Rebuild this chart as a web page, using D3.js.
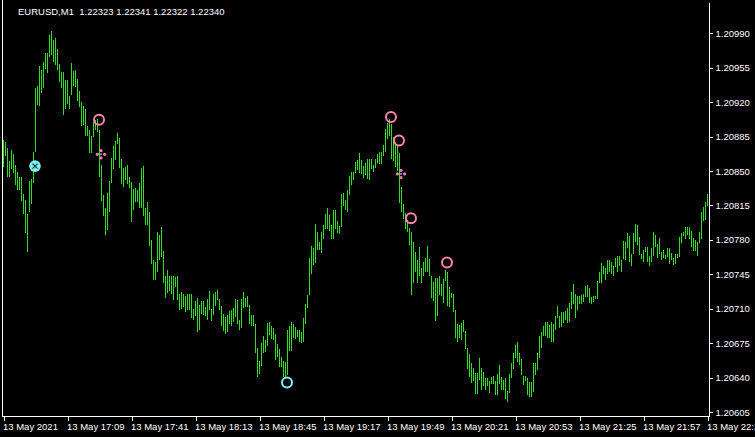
<!DOCTYPE html>
<html>
<head>
<meta charset="utf-8">
<script src="https://cdn.jsdelivr.net/npm/d3@7"></script>
<style>
  html, body { margin: 0; padding: 0; background: #000; overflow: hidden; }
  text { font-family: "Liberation Sans", Arial, sans-serif; }
</style>
</head>
<body>
<div id="chart"></div>
<script>
// EURUSD M1, one bar per minute from 13 May 16:37 to 22:29
const highs = [
  1.20882,1.20879,1.20873,1.20860,1.20871,1.20867,1.20856,1.20849,1.20844,1.20844,
  1.20827,1.20821,1.20806,1.20840,1.20842,1.20869,1.20934,1.20936,1.20957,1.20953,
  1.20961,1.20970,1.20970,1.20988,1.20992,1.20983,1.20985,1.20974,1.20959,1.20951,
  1.20951,1.20943,1.20943,1.20926,1.20960,1.20952,1.20953,1.20944,1.20931,1.20920,
  1.20916,1.20913,1.20896,1.20892,1.20886,1.20900,1.20902,1.20903,1.20892,1.20856,
  1.20826,1.20812,1.20828,1.20840,1.20863,1.20875,1.20881,1.20889,1.20884,1.20862,
  1.20853,1.20854,1.20856,1.20844,1.20839,1.20832,1.20833,1.20831,1.20838,1.20853,
  1.20855,1.20812,1.20818,1.20808,1.20780,1.20760,1.20758,1.20788,1.20785,1.20793,
  1.20769,1.20743,1.20749,1.20743,1.20743,1.20743,1.20742,1.20743,1.20725,1.20727,
  1.20725,1.20723,1.20725,1.20725,1.20725,1.20710,1.20718,1.20721,1.20714,1.20718,
  1.20718,1.20712,1.20720,1.20728,1.20710,1.20725,1.20727,1.20729,1.20720,1.20713,
  1.20705,1.20702,1.20704,1.20708,1.20709,1.20711,1.20720,1.20719,1.20699,1.20720,
  1.20727,1.20721,1.20723,1.20714,1.20704,1.20704,1.20694,1.20670,1.20657,1.20675,
  1.20682,1.20678,1.20695,1.20697,1.20692,1.20690,1.20684,1.20674,1.20669,1.20661,
  1.20657,1.20656,1.20688,1.20692,1.20697,1.20694,1.20691,1.20688,1.20688,1.20686,
  1.20701,1.20715,1.20724,1.20762,1.20774,1.20772,1.20796,1.20788,1.20778,1.20788,
  1.20795,1.20806,1.20812,1.20805,1.20795,1.20810,1.20810,1.20799,1.20794,1.20827,
  1.20828,1.20821,1.20831,1.20845,1.20849,1.20849,1.20859,1.20861,1.20868,1.20861,
  1.20855,1.20858,1.20862,1.20862,1.20862,1.20856,1.20862,1.20867,1.20869,1.20869,
  1.20876,1.20893,1.20899,1.20903,1.20898,1.20885,1.20880,1.20875,1.20868,1.20834,
  1.20816,1.20807,1.20800,1.20792,1.20788,1.20778,1.20768,1.20760,1.20773,1.20751,
  1.20758,1.20762,1.20774,1.20761,1.20743,1.20737,1.20741,1.20741,1.20743,1.20735,
  1.20740,1.20749,1.20747,1.20732,1.20726,1.20725,1.20709,1.20694,1.20693,1.20695,
  1.20699,1.20687,1.20670,1.20664,1.20655,1.20650,1.20645,1.20645,1.20660,1.20650,
  1.20646,1.20640,1.20640,1.20637,1.20641,1.20642,1.20637,1.20644,1.20653,1.20641,
  1.20638,1.20640,1.20626,1.20644,1.20655,1.20665,1.20673,1.20676,1.20665,1.20659,
  1.20642,1.20642,1.20640,1.20636,1.20636,1.20655,1.20655,1.20665,1.20682,1.20686,
  1.20692,1.20697,1.20696,1.20693,1.20697,1.20694,1.20703,1.20713,1.20703,1.20707,
  1.20707,1.20708,1.20711,1.20716,1.20727,1.20735,1.20725,1.20723,1.20723,1.20724,
  1.20725,1.20733,1.20734,1.20731,1.20722,1.20723,1.20723,1.20738,1.20747,1.20756,
  1.20753,1.20751,1.20760,1.20760,1.20758,1.20753,1.20762,1.20764,1.20764,1.20760,
  1.20779,1.20778,1.20787,1.20784,1.20766,1.20787,1.20796,1.20795,1.20783,1.20766,
  1.20770,1.20773,1.20773,1.20764,1.20772,1.20788,1.20785,1.20776,1.20782,1.20768,
  1.20770,1.20765,1.20772,1.20772,1.20767,1.20762,1.20766,1.20766,1.20783,1.20787,
  1.20788,1.20793,1.20793,1.20793,1.20789,1.20782,1.20780,1.20778,1.20788,1.20808,
  1.20813,1.20818,1.20827
];
const lows = [
  1.20854,1.20865,1.20844,1.20844,1.20852,1.20848,1.20836,1.20831,1.20831,1.20820,
  1.20806,1.20787,1.20768,1.20808,1.20816,1.20838,1.20869,1.20917,1.20916,1.20929,
  1.20934,1.20954,1.20950,1.20966,1.20968,1.20961,1.20958,1.20953,1.20940,1.20934,
  1.20907,1.20913,1.20918,1.20913,1.20927,1.20936,1.20935,1.20921,1.20915,1.20896,
  1.20897,1.20886,1.20886,1.20868,1.20868,1.20885,1.20892,1.20890,1.20844,1.20820,
  1.20804,1.20785,1.20790,1.20808,1.20838,1.20852,1.20861,1.20877,1.20853,1.20837,
  1.20834,1.20841,1.20837,1.20833,1.20798,1.20810,1.20818,1.20818,1.20812,1.20812,
  1.20804,1.20795,1.20795,1.20774,1.20755,1.20739,1.20739,1.20747,1.20760,1.20763,
  1.20736,1.20721,1.20726,1.20728,1.20725,1.20719,1.20732,1.20719,1.20709,1.20710,
  1.20712,1.20707,1.20709,1.20709,1.20701,1.20699,1.20703,1.20686,1.20688,1.20705,
  1.20704,1.20703,1.20699,1.20709,1.20698,1.20704,1.20713,1.20719,1.20709,1.20692,
  1.20687,1.20684,1.20686,1.20694,1.20692,1.20696,1.20702,1.20694,1.20688,1.20690,
  1.20711,1.20712,1.20712,1.20694,1.20692,1.20692,1.20665,1.20641,1.20644,1.20652,
  1.20665,1.20666,1.20672,1.20683,1.20679,1.20678,1.20658,1.20661,1.20651,1.20651,
  1.20641,1.20640,1.20643,1.20667,1.20667,1.20680,1.20679,1.20681,1.20676,1.20675,
  1.20676,1.20694,1.20711,1.20724,1.20745,1.20754,1.20756,1.20770,1.20770,1.20767,
  1.20781,1.20791,1.20791,1.20789,1.20781,1.20781,1.20791,1.20787,1.20786,1.20793,
  1.20814,1.20810,1.20808,1.20826,1.20836,1.20841,1.20848,1.20851,1.20848,1.20847,
  1.20843,1.20846,1.20842,1.20841,1.20852,1.20849,1.20853,1.20858,1.20857,1.20857,
  1.20865,1.20869,1.20883,1.20886,1.20862,1.20860,1.20854,1.20850,1.20817,1.20808,
  1.20801,1.20791,1.20788,1.20775,1.20724,1.20736,1.20747,1.20736,1.20743,1.20736,
  1.20743,1.20747,1.20747,1.20743,1.20721,1.20718,1.20698,1.20703,1.20724,1.20723,
  1.20716,1.20738,1.20713,1.20712,1.20721,1.20707,1.20680,1.20676,1.20680,1.20678,
  1.20686,1.20669,1.20649,1.20641,1.20634,1.20637,1.20623,1.20623,1.20638,1.20627,
  1.20631,1.20627,1.20631,1.20624,1.20633,1.20633,1.20622,1.20622,1.20633,1.20627,
  1.20627,1.20618,1.20615,1.20624,1.20640,1.20649,1.20660,1.20656,1.20653,1.20643,
  1.20632,1.20637,1.20622,1.20620,1.20620,1.20625,1.20643,1.20648,1.20660,1.20670,
  1.20682,1.20682,1.20680,1.20680,1.20676,1.20676,1.20688,1.20701,1.20690,1.20691,
  1.20695,1.20699,1.20695,1.20697,1.20710,1.20715,1.20701,1.20709,1.20715,1.20715,
  1.20717,1.20722,1.20722,1.20716,1.20715,1.20717,1.20720,1.20720,1.20736,1.20736,
  1.20745,1.20739,1.20745,1.20747,1.20745,1.20743,1.20752,1.20747,1.20753,1.20747,
  1.20761,1.20760,1.20772,1.20757,1.20753,1.20766,1.20778,1.20775,1.20765,1.20761,
  1.20758,1.20768,1.20757,1.20753,1.20758,1.20764,1.20773,1.20762,1.20766,1.20760,
  1.20762,1.20761,1.20763,1.20755,1.20760,1.20754,1.20755,1.20762,1.20763,1.20777,
  1.20784,1.20781,1.20785,1.20781,1.20773,1.20769,1.20769,1.20764,1.20777,1.20781,
  1.20799,1.20800,1.20814
];

// price scale and time scale labels
const priceTicks = [1.20605, 1.20640, 1.20675, 1.20710, 1.20745, 1.20780,
                    1.20815, 1.20850, 1.20885, 1.20920, 1.20955, 1.20990];
const timeTickBars = [0, 32, 64, 96, 128, 160, 192, 224, 256, 288, 320, 352];
const timeTickLabels = ["13 May 2021", "13 May 17:09", "13 May 17:41", "13 May 18:13",
  "13 May 18:45", "13 May 19:17", "13 May 19:49", "13 May 20:21", "13 May 20:53",
  "13 May 21:25", "13 May 21:57", "13 May 22:29"];

// indicator arrows
const ringBars = [48, 194, 198, 204, 222];
const ringPrices = [1.20902, 1.20905, 1.20881, 1.20802, 1.20757];
const diamondBars = [49, 199];
const diamondPrices = [1.20867, 1.20847];
const crossBars = [16];
const crossPrices = [1.20855];
const lowRingBars = [142];
const lowRingPrices = [1.20635];

const title = "EURUSD,M1  1.22323 1.22341 1.22322 1.22340";

const width = 755;
const height = 437;

const svg = d3.select("#chart")
  .append("svg")
  .attr("width", width)
  .attr("height", height)
  .style("display", "block")
  .style("background", "#000");

const x = d3.scaleLinear()
  .domain([0, highs.length - 1])
  .range([3.5, 707.5]);

const y = d3.scaleLinear()
  .domain([1.20605, 1.20990])
  .range([412, 33.3]);

// frame
svg.append("path")
  .attr("d", "M2.5,0V416.5H709.5V2.5")
  .attr("fill", "none")
  .attr("stroke", "#fff")
  .attr("stroke-width", 1)
  .attr("shape-rendering", "crispEdges");

// bars (high-low)
svg.append("g")
  .selectAll("line")
  .data(highs)
  .enter()
  .append("line")
  .attr("x1", (d, i) => x(i))
  .attr("x2", (d, i) => x(i))
  .attr("y1", d => y(d))
  .attr("y2", (d, i) => Math.max(y(lows[i]), y(d) + 1))
  .attr("stroke", "#32dc28")
  .attr("stroke-width", 1)
  .attr("shape-rendering", "crispEdges");

// price axis
const yAxis = svg.append("g")
  .attr("transform", "translate(709.5,0)")
  .call(d3.axisRight(y).tickValues(priceTicks).tickSize(3).tickPadding(3)
    .tickFormat(d3.format(".5f")));
yAxis.select(".domain").remove();
yAxis.selectAll("line").attr("stroke", "#fff").attr("shape-rendering", "crispEdges");
yAxis.selectAll("text")
  .attr("fill", "#fff")
  .style("font-size", "9.5px");

// time axis
const xAxis = svg.append("g")
  .attr("transform", "translate(0,416.5)")
  .call(d3.axisBottom(x).tickValues(timeTickBars).tickSize(4).tickPadding(3)
    .tickFormat((d, i) => timeTickLabels[i]));
xAxis.select(".domain").remove();
xAxis.selectAll("line").attr("stroke", "#fff").attr("shape-rendering", "crispEdges");
xAxis.selectAll("text")
  .attr("fill", "#fff")
  .attr("text-anchor", "start")
  .attr("dx", "-1")
  .style("font-size", "9.5px");

// title
svg.append("text")
  .attr("x", 18)
  .attr("y", 14.5)
  .attr("fill", "#fff")
  .style("font-size", "9.5px")
  .style("white-space", "pre")
  .text(title);

// pink rings
svg.append("g")
  .selectAll("circle")
  .data(ringBars)
  .enter()
  .append("circle")
  .attr("cx", d => x(d) - 0.5)
  .attr("cy", (d, i) => y(ringPrices[i]))
  .attr("r", 5)
  .attr("fill", "none")
  .attr("stroke", "#ff85aa")
  .attr("stroke-width", 2);

// pink diamonds (four dots)
const offsets = [[0, -3.6], [3.6, 0], [0, 3.6], [-3.6, 0]];
diamondBars.forEach((b, i) => {
  const g = svg.append("g")
    .attr("transform", `translate(${x(b) - 0.5},${y(diamondPrices[i])})`);
  g.append("rect")
    .attr("x", -1).attr("y", -1)
    .attr("width", 2).attr("height", 2)
    .attr("fill", "#5a7cff");
  g.selectAll("circle")
    .data(offsets)
    .enter()
    .append("circle")
    .attr("cx", d => d[0])
    .attr("cy", d => d[1])
    .attr("r", 1.6)
    .attr("fill", "#ff7fa0");
});

// cyan circle with cross
crossBars.forEach((b, i) => {
  const g = svg.append("g")
    .attr("transform", `translate(${x(b) - 0.5},${y(crossPrices[i])})`);
  g.append("circle")
    .attr("r", 5.8)
    .attr("fill", "#7ff0f0");
  g.append("path")
    .attr("d", "M-2.5,-2.5L2.5,2.5M2.5,-2.5L-2.5,2.5")
    .attr("stroke", "#103030")
    .attr("stroke-width", 1.2);
});

// cyan ring at the low
svg.append("g")
  .selectAll("circle")
  .data(lowRingBars)
  .enter()
  .append("circle")
  .attr("cx", d => x(d) - 0.5)
  .attr("cy", (d, i) => y(lowRingPrices[i]))
  .attr("r", 5)
  .attr("fill", "none")
  .attr("stroke", "#80f4f8")
  .attr("stroke-width", 2);
</script>
</body>
</html>
